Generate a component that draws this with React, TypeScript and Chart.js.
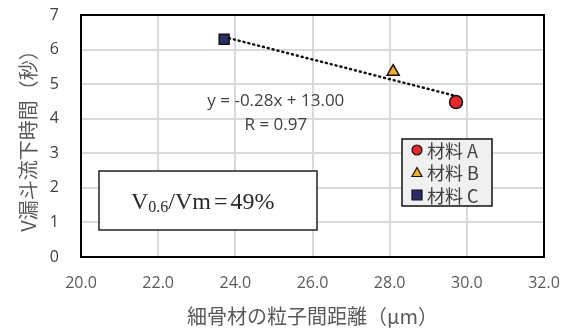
import React, { useEffect, useRef } from "react";
import { Chart, registerables } from "chart.js";

Chart.register(...registerables);

const seriesNames = ["材料 A", "材料 B", "材料 C"];
const xValues = [29.72, 28.09, 23.71];
const yValues = [4.48, 5.36, 6.3];
const colors = ["#e8262b", "#f5b01c", "#2b2d6a"];
const styles = ["circle", "triangle", "rect"];
const xTicks = [20, 22, 24, 26, 28, 30, 32];
const yTicks = [0, 1, 2, 3, 4, 5, 6, 7];
const eqLines = ["y = -0.28x + 13.00", "R = 0.97"];

function regression(xs: number[], ys: number[]) {
  const n = xs.length;
  const mx = xs.reduce((a, b) => a + b, 0) / n;
  const my = ys.reduce((a, b) => a + b, 0) / n;
  let sxy = 0, sxx = 0;
  for (let i = 0; i < n; i++) {
    sxy += (xs[i] - mx) * (ys[i] - my);
    sxx += (xs[i] - mx) ** 2;
  }
  const m = sxy / sxx;
  return { m, b: my - m * mx };
}

export default function App() {
  const ref = useRef<HTMLCanvasElement>(null);
  useEffect(() => {
    document.body.style.margin = "0";
    const { m, b } = regression(xValues, yValues);
    const xmin = Math.min(...xValues);
    const xmax = Math.max(...xValues);
    const datasets: any[] = seriesNames.map((name, i) => ({
      label: name,
      data: [{ x: xValues[i], y: yValues[i] }],
      pointStyle: styles[i],
      backgroundColor: colors[i],
      borderColor: "#111",
      borderWidth: 1.5,
      pointRadius: i === 0 ? 6.5 : 7,
      showLine: false,
      order: 1,
    }));
    datasets.push({
      label: "trend",
      data: [
        { x: xmin, y: m * xmin + b },
        { x: xmax, y: m * xmax + b },
      ],
      showLine: true,
      borderColor: "#111",
      borderWidth: 2.5,
      borderDash: [1, 4],
      borderCapStyle: "round",
      pointRadius: 0,
      order: 2,
    });

    const overlay = {
      id: "overlay",
      afterDraw(chart: any) {
        const ctx = chart.ctx;
        const ca = chart.chartArea;
        const xs = chart.scales.x;
        const ys = chart.scales.y;
        ctx.save();
        // plot border
        ctx.strokeStyle = "#000";
        ctx.lineWidth = 2;
        ctx.strokeRect(ca.left, ca.top, ca.right - ca.left, ca.bottom - ca.top);
        // equation
        ctx.fillStyle = "#404040";
        ctx.font = "17px 'Open Sans'";
        ctx.textAlign = "center";
        ctx.textBaseline = "middle";
        const cx = xs.getPixelForValue(25.05);
        ctx.fillText(eqLines[0], cx, ys.getPixelForValue(4.5));
        ctx.fillText(eqLines[1], cx, ys.getPixelForValue(3.81));
        // text box
        const bx = ca.left + 18, by = ca.top + 156, bw = 218, bh = 59;
        ctx.fillStyle = "#fff";
        ctx.fillRect(bx, by, bw, bh);
        ctx.strokeStyle = "#222";
        ctx.lineWidth = 1.5;
        ctx.strokeRect(bx, by, bw, bh);
        ctx.fillStyle = "#2a2a2a";
        ctx.textAlign = "left";
        ctx.textBaseline = "alphabetic";
        const base = by + 38;
        let tx = bx + 32;
        const parts: [string, string][] = [
          ["V", "24px 'Liberation Serif'"],
          ["0.6", "16px 'Liberation Serif'"],
          ["/Vm", "24px 'Liberation Serif'"],
          ["=", "24px 'Liberation Serif'"],
          ["49%", "24px 'Liberation Serif'"],
        ];
        for (let i = 0; i < parts.length; i++) {
          ctx.font = parts[i][1];
          if (i === 3) {
            const w = ctx.measureText("=").width;
            ctx.fillText("=", tx + 3, base);
            tx += w + 6;
            continue;
          }
          ctx.fillText(parts[i][0], tx, base + (i === 1 ? 3 : 0));
          tx += ctx.measureText(parts[i][0]).width;
        }
        // legend
        const lx = ca.left + 321, ly = ca.top + 124, lw = 90, lh = 67;
        ctx.fillStyle = "#f0f0f0";
        ctx.fillRect(lx, ly, lw, lh);
        ctx.strokeStyle = "#111";
        ctx.lineWidth = 1.5;
        ctx.strokeRect(lx, ly, lw, lh);
        ctx.font = "18px 'Noto Sans CJK JP'";
        ctx.textBaseline = "middle";
        for (let i = 0; i < seriesNames.length; i++) {
          const iy = ly + 11 + i * 22.5;
          const mx = lx + 15;
          ctx.fillStyle = colors[i];
          ctx.strokeStyle = "#111";
          ctx.lineWidth = 1.2;
          ctx.beginPath();
          if (styles[i] === "circle") ctx.arc(mx, iy, 5, 0, Math.PI * 2);
          else if (styles[i] === "triangle") {
            ctx.moveTo(mx, iy - 5);
            ctx.lineTo(mx + 5, iy + 4);
            ctx.lineTo(mx - 5, iy + 4);
            ctx.closePath();
          } else ctx.rect(mx - 5, iy - 5, 10, 10);
          ctx.fill();
          ctx.stroke();
          ctx.fillStyle = "#404040";
          ctx.fillText(seriesNames[i], lx + 25, iy + 1);
        }
        ctx.restore();
      },
    };

    const chart = new Chart(ref.current!, {
      type: "scatter",
      data: { datasets },
      plugins: [overlay],
      options: {
        animation: false,
        responsive: false,
        layout: { autoPadding: false, padding: { top: 15, right: 27, left: 0, bottom: 0 } },
        plugins: { legend: { display: false }, tooltip: { enabled: false } },
        scales: {
          x: {
            type: "linear",
            min: 20,
            max: 32,
            afterBuildTicks: (s: any) => { s.ticks = xTicks.map((v) => ({ value: v })); },
            afterFit: (s: any) => {
              s.height = 74;
              s.paddingLeft = 0; s.paddingRight = 0; s.paddingTop = 0; s.paddingBottom = 0;
            },
            grid: { color: "#d9d9d9", lineWidth: 2, drawTicks: false },
            border: { display: false },
            ticks: {
              color: "#595959",
              font: { family: "'Open Sans'", size: 16 },
              padding: 17,
              callback: (v: any) => Number(v).toFixed(1),
            },
            title: {
              display: true,
              text: "細骨材の粒子間距離（μm）",
              color: "#595959",
              font: { family: "'Noto Sans CJK JP'", size: 20 },
              padding: { top: 0, bottom: 3 },
            },
          },
          y: {
            type: "linear",
            min: 0,
            max: 7,
            afterBuildTicks: (s: any) => { s.ticks = yTicks.map((v) => ({ value: v })); },
            afterFit: (s: any) => {
              s.width = 81;
              s.paddingLeft = 0; s.paddingRight = 0; s.paddingTop = 0; s.paddingBottom = 0;
            },
            grid: { color: "#d9d9d9", lineWidth: 2, drawTicks: false },
            border: { display: false },
            ticks: {
              color: "#404040",
              font: { family: "'Open Sans'", size: 16 },
              padding: 22,
            },
            title: {
              display: true,
              text: "V漏斗流下時間（秒）",
              color: "#595959",
              font: { family: "'Noto Sans CJK JP'", size: 20 },
              padding: { top: 16, bottom: 0 },
            },
          },
        },
      },
    });
    return () => chart.destroy();
  }, []);
  return <canvas ref={ref} width={571} height={331} style={{ display: "block" }} />;
}
